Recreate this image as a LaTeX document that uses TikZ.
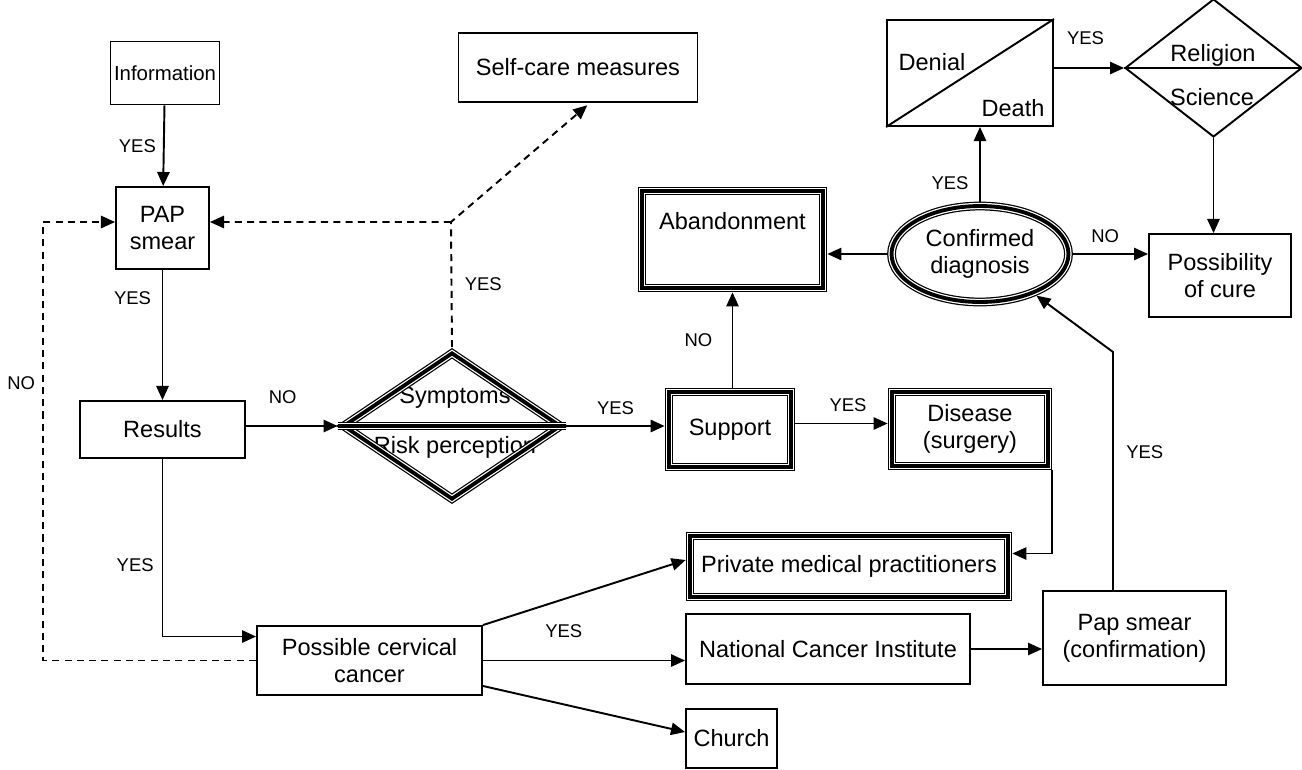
\documentclass[tikz,border=0pt]{standalone}
\usepackage{fontspec}
\setmainfont{Liberation Sans}
\usepackage{tikz}
\usetikzlibrary{arrows.meta}
\usetikzlibrary{shapes.geometric}

\begin{document}
\begin{tikzpicture}[x=0.02cm,y=-0.02cm,>={Triangle[length=8pt,width=7pt]},
		box/.style={shape=rectangle,draw=black,line width=1.1pt,inner sep=2pt,align=center,font=\fontsize{13.4}{15.3}\selectfont},
		triple/.style={draw=black,line width=5pt,outer sep=2.5pt,postaction={draw,white,line width=3.6pt},postaction={draw,black,line width=2.2pt}},
		txt/.style={inner sep=1pt,font=\fontsize{13.4}{15.3}\selectfont},
		lbl/.style={inner sep=2pt,font=\fontsize{10.5}{12}\selectfont},
		conn/.style={->,line width=1.1pt},
		dconn/.style={->,line width=1.1pt,dash pattern=on 4pt off 3pt}]
	\useasboundingbox (0,0) rectangle (1302,769);

	\node[box,minimum width=2.12cm,minimum height=1.26cm,font=\fontsize{11.6}{13.5}\selectfont] (info) at (165,73) {Information};
	\node[box,minimum width=4.78cm,minimum height=1.38cm] (self) at (578,67.5) {Self-care measures};
	\node[box,minimum width=1.86cm,minimum height=1.64cm] (pap) at (162.5,228) {PAP\\smear};
	\node[box,minimum width=3.3cm,minimum height=1.14cm] (res) at (162.5,429.5) {Results};
	\node[txt] (symt) at (455,398) {Symptoms};
	\node[txt] (riskt) at (455,447) {Risk perception};
	\node[shape=diamond,triple,inner sep=0pt,minimum width=4.4cm,minimum height=2.98cm] (sym) at (452,426) {};
	\node[box,triple,minimum width=2.44cm,minimum height=1.5cm] (sup) at (730,429.5) {Support};
	\node[box,triple,minimum width=3.12cm,minimum height=1.48cm] (dis) at (970,429) {Disease\\(surgery)};
	\node[box,triple,minimum width=3.62cm,minimum height=1.94cm] (aban) at (732.5,239.5) {Abandonment\\[6pt]};
	\node[shape=ellipse,triple,inner sep=0pt,align=center,minimum width=3.54cm,minimum height=1.92cm,font=\fontsize{13.4}{15.3}\selectfont] (conf) at (980,254) {Confirmed\\diagnosis};
	\node[box,minimum width=3.32cm,minimum height=2.12cm] (dd) at (970,73) {};
	\node[txt] (den) at (932,62) {Denial};
	\node[txt] (dea) at (1013,108) {Death};
	\node[shape=diamond,draw=black,line width=1.1pt,inner sep=0pt,minimum width=3.54cm,minimum height=2.76cm] (rel) at (1213.5,68) {};
	\node[txt] (relt) at (1213,55) {Religion};
	\node[txt] (scit) at (1212,97) {Science};
	\node[box,minimum width=2.84cm,minimum height=1.66cm] (poss) at (1220,275.5) {Possibility\\of cure};
	\node[box,triple,minimum width=6.36cm,minimum height=1.22cm] (pmp) at (849,566.5) {Private medical practitioners};
	\node[box,minimum width=5.68cm,minimum height=1.4cm] (nci) at (828,649) {National Cancer Institute};
	\node[box,minimum width=1.82cm,minimum height=1.18cm] (church) at (731.5,738.5) {Church};
	\node[box,minimum width=4.5cm,minimum height=1.38cm] (pcc) at (369.5,660.5) {Possible cervical\\cancer};
	\node[box,minimum width=3.66cm,minimum height=1.88cm] (papc) at (1134.5,638) {Pap smear\\(confirmation)};

	%% dividers
	\draw[triple] (sym.west) -- (sym.east);
	\draw[line width=1.1pt] (dd.south west) -- (dd.north east);
	\draw[line width=1.1pt] (rel.west) -- (rel.east);

	%% lines
	\coordinate (nocorner) at (43,383);
	\coordinate (selfturn) at (451,222);
	\coordinate (papturn) at (1113,352);
	\draw[conn] (info) -- node[lbl,left=2pt] {YES} (pap);
	\draw[conn] (pap) -- node[lbl,pos=.22,left=4pt] {YES} (res);
	\draw[conn] (res.east |- sym.west) -- node[lbl,pos=.4,above=10pt] {NO} (sym.west);
	\draw[conn] (res) |- node[lbl,pos=.3,left=2.5pt] {YES} ([yshift=.48cm]pcc.west);
	\draw[dconn] (pcc.west) -| (nocorner) node[lbl,left=2pt] {NO} |- ([yshift=.12cm]pap.west);
	\draw[dconn,shorten >=2pt] (sym.north) -- node[lbl,right=5pt] {YES} (selfturn) -- ([xshift=.24cm]self.south);
	\draw[dconn] (selfturn) -- ([yshift=.12cm]pap.east);
	\draw[conn] (sym.east) -- node[lbl,above=4pt] {YES} (sup.west |- sym.east);
	\draw[conn] ([yshift=.12cm]sup.east) -- node[lbl,pos=.57,above=4pt] {YES} ([yshift=.12cm]sup.east -| dis.west);
	\draw[conn] (sup.north -| aban.south) -- node[lbl,left=9pt] {NO} (aban.south);
	\draw[conn] (conf.west) -- (conf.west -| aban.east);
	\draw[conn] (conf.north) -- node[lbl,pos=.25,left=4pt] {YES} (dd.south -| conf.north);
	\draw[conn] (dd.east |- rel.west) -- node[lbl,pos=.45,above=11pt] {YES} (rel.west);
	\draw[conn] (rel.south) -- (rel.south |- poss.north);
	\draw[conn] (conf.east) -- node[lbl,pos=.43,above=4pt] {NO} (conf.east -| poss.west);
	\draw[conn] (dis.south east) |- ([yshift=.26cm]pmp.east);
	\draw[conn] (pcc.north east) -- ([yshift=.13cm]pmp.west);
	\draw[conn] (pcc.east) -- node[lbl,pos=.4,above=10.5pt] {YES} (pcc.east -| nci.west);
	\draw[conn] ([yshift=.2cm]pcc.south east) -- ([yshift=.13cm]church.west);
	\draw[conn] (nci.east) -- (nci.east -| papc.west);
	\draw[conn] (papc.north -| papturn) -- node[lbl,pos=.58,right=5pt] {YES} (papturn) -- (conf);
\end{tikzpicture}
\end{document}
